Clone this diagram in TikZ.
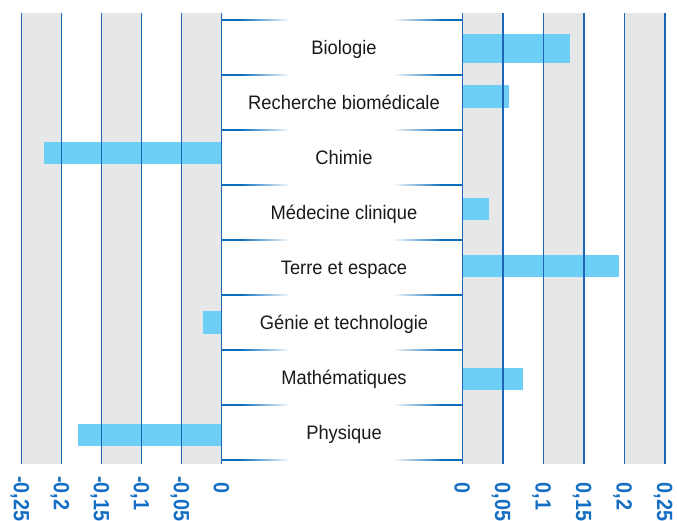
\documentclass[tikz,border=0pt]{standalone}
\usepackage{fontspec}
\newfontfamily\lblfont[FakeStretch=0.94]{Liberation Sans}
\newfontfamily\tickfont[FakeStretch=0.9]{Liberation Sans}
\definecolor{stripe}{HTML}{E6E7E9}
\definecolor{barc}{HTML}{6DCFF6}
\definecolor{vblue}{RGB}{30,100,185}
\definecolor{hblue}{RGB}{10,110,190}
\definecolor{tblue}{RGB}{20,110,195}
\begin{document}
\begin{tikzpicture}[x=1pt,y=-1pt,
  stripebox/.style={fill=stripe},
  barbox/.style={fill=barc},
  vline/.style={draw=vblue,line width=1.5pt},
  lbl/.style={font=\lblfont\fontsize{19.5}{23}\selectfont,text=black!90,inner sep=0pt,anchor=base},
  tick/.style={font=\tickfont\bfseries\fontsize{22}{26}\selectfont,text=tblue,inner sep=0pt,rotate=-90,anchor=base west}]
\useasboundingbox (0,0) rectangle (677,521);
% stripes
\foreach \a in {21.7,101.7,181.7} \fill[stripebox] (\a,13) rectangle ++(40,451);
\foreach \a in {462.5,543.5,624.5} \fill[stripebox] (\a,13) rectangle ++(40.5,451);
% bars
\fill[barbox] (462.5,34) rectangle (570,62.7);
\fill[barbox] (462.5,85) rectangle (509,107.7);
\fill[barbox] (44,142) rectangle (221.7,163.7);
\fill[barbox] (462.5,198) rectangle (489,220);
\fill[barbox] (462.5,255) rectangle (619,277);
\fill[barbox] (203,311) rectangle (221.7,333.7);
\fill[barbox] (462.5,368) rectangle (523,390);
\fill[barbox] (78,424) rectangle (221.7,445.7);
% vertical lines
\foreach \a in {21.7,61.7,101.7,141.7,181.7,221.7,462.5,503,543.5,584,624.5,665}
  \draw[vline] (\a,13) -- (\a,464);
% horizontal gradient lines (stepped fade towards the middle)
\foreach \k in {0,...,8}{
  \pgfmathsetmacro\yy{20+55*\k}
  \fill[hblue] (221.7,{\yy-1}) rectangle (240,{\yy+1});
  \fill[hblue] (444,{\yy-1}) rectangle (462.5,{\yy+1});
  \foreach \s in {0,...,24}{
    \pgfmathsetmacro\pc{100-4*\s}
    \fill[hblue!\pc!white] ({240+2*\s},{\yy-1}) rectangle ({242.3+2*\s},{\yy+1});
    \fill[hblue!\pc!white] ({442-2*\s},{\yy-1}) rectangle ({444.3-2*\s},{\yy+1});
  }
}
% row labels
\node[lbl] (l1) at (344,54.8) {Biologie};
\node[lbl] (l2) at (344,109.8) {Recherche biomédicale};
\node[lbl] (l3) at (344,164.8) {Chimie};
\node[lbl] (l4) at (344,219.8) {Médecine clinique};
\node[lbl] (l5) at (344,274.8) {Terre et espace};
\node[lbl] (l6) at (344,329.8) {Génie et technologie};
\node[lbl] (l7) at (344,384.8) {Mathématiques};
\node[lbl] (l8) at (344,439.8) {Physique};
% tick labels
\foreach \a/\t [count=\i] in {21.7/{\llap{-}0,25}, 61.7/{\llap{-}0,2}, 101.7/{\llap{-}0,15}, 141.7/{\llap{-}0,1}, 181.7/{\llap{-}0,05}, 221.7/{0}, 462.5/{0}, 503/{0,05}, 543.5/{0,1}, 584/{0,15}, 624.5/{0,2}, 665/{0,25}}
  \node[tick] (t\i) at ({\a-7.9},482.5) {\t};
\end{tikzpicture}
\end{document}
